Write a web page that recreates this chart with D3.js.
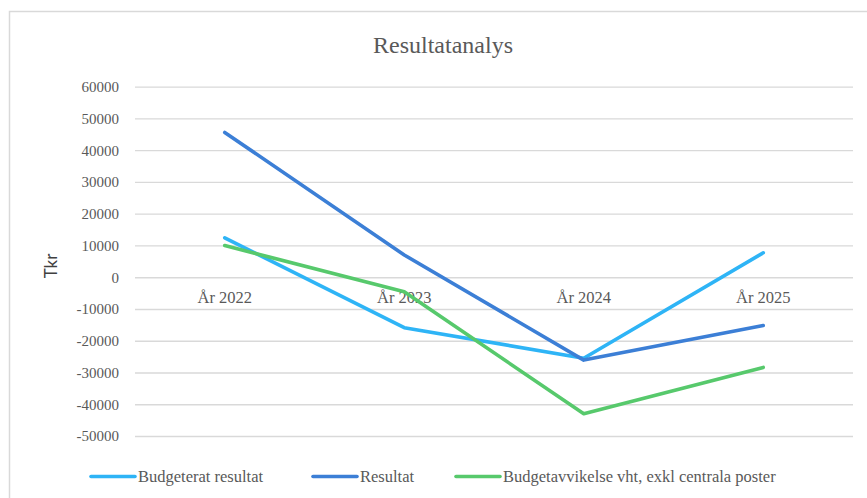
<!DOCTYPE html>
<html>
<head>
<meta charset="utf-8">
<script src="https://cdn.jsdelivr.net/npm/d3@7"></script>
<style>
  body { margin: 0; background: #fff; }
  svg { display: block; }
  .serif { font-family: "Liberation Serif", "DejaVu Serif", "Times New Roman", serif; }
  .sans { font-family: Lato, "Open Sans", sans-serif; }
</style>
</head>
<body>
<svg id="chart"></svg>
<script>
var width = 867;
var height = 498;

// data
const years = ["År 2022", "År 2023", "År 2024", "År 2025"];
const budgeterat = [12400, -15900, -25500, 7700];
const resultat = [45600, 7000, -26100, -15200];
const avvikelse = [10000, -4600, -43000, -28400];
const seriesNames = ["Budgeterat resultat", "Resultat", "Budgetavvikelse vht, exkl centrala poster"];
const seriesColors = ["#2eb4f6", "#3c7fd6", "#57c96c"];
const yTicks = [60000, 50000, 40000, 30000, 20000, 10000, 0, -10000, -20000, -30000, -40000, -50000];

const textGrey = "#595959";

var svg = d3.select("#chart")
    .attr("width", width)
    .attr("height", height);

// chart frame (only top and left edges visible)
svg.append("path")
    .attr("d", "M9.5," + height + "V11.5H" + width)
    .attr("fill", "none")
    .attr("stroke", "#d9d9d9")
    .attr("stroke-width", 1.5);

let x = d3.scaleBand().domain(years).range([135, 853]);
let y = d3.scaleLinear().domain([-50000, 60000]).range([436, 86.7]);

// title
svg.append("text")
    .attr("class", "serif")
    .attr("x", 443)
    .attr("y", 53)
    .attr("text-anchor", "middle")
    .style("font-size", "24px")
    .attr("fill", textGrey)
    .text("Resultatanalys");

// y axis with gridlines
let yAxis = svg.append("g")
    .attr("transform", "translate(135,0)")
    .call(d3.axisLeft(y).tickValues(yTicks).tickSize(-718).tickPadding(16).tickFormat(d => String(d)));
yAxis.attr("font-family", null);
yAxis.select(".domain").remove();
yAxis.selectAll(".tick line").attr("stroke", "#d9d9d9").attr("stroke-width", 1.3);
yAxis.selectAll(".tick text")
    .attr("class", "serif")
    .style("font-size", "15px")
    .attr("fill", textGrey);

// y axis title
svg.append("text")
    .attr("class", "sans")
    .attr("transform", "translate(57,266) rotate(-90)")
    .attr("text-anchor", "middle")
    .style("font-size", "17px")
    .attr("fill", "#404040")
    .text("Tkr");

// category labels sit next to the zero line
let xAxis = svg.append("g")
    .attr("transform", "translate(0," + y(0) + ")")
    .call(d3.axisBottom(x).tickSize(0).tickPadding(14));
xAxis.attr("font-family", null);
xAxis.select(".domain").remove();
xAxis.selectAll(".tick text")
    .attr("class", "serif")
    .style("font-size", "16.5px")
    .attr("fill", textGrey);

// lines
let line = d3.line()
    .x((d, i) => x(years[i]) + x.bandwidth() / 2)
    .y(d => y(d));

[budgeterat, resultat, avvikelse].forEach((vals, i) => {
    svg.append("path")
        .datum(vals)
        .attr("d", line)
        .attr("fill", "none")
        .attr("stroke", seriesColors[i])
        .attr("stroke-width", 3.6)
        .attr("stroke-linecap", "round")
        .attr("stroke-linejoin", "round");
});

// legend
const legendX = [91, 313, 456];
let legend = svg.append("g");
seriesNames.forEach((name, i) => {
    legend.append("line")
        .attr("x1", legendX[i]).attr("x2", legendX[i] + 44)
        .attr("y1", 476.5).attr("y2", 476.5)
        .attr("stroke", seriesColors[i])
        .attr("stroke-width", 3.6)
        .attr("stroke-linecap", "round");
    legend.append("text")
        .attr("class", "serif")
        .attr("x", legendX[i] + 47)
        .attr("y", 482)
        .style("font-size", "16.5px")
        .attr("fill", textGrey)
        .text(name);
});
</script>
</body>
</html>
